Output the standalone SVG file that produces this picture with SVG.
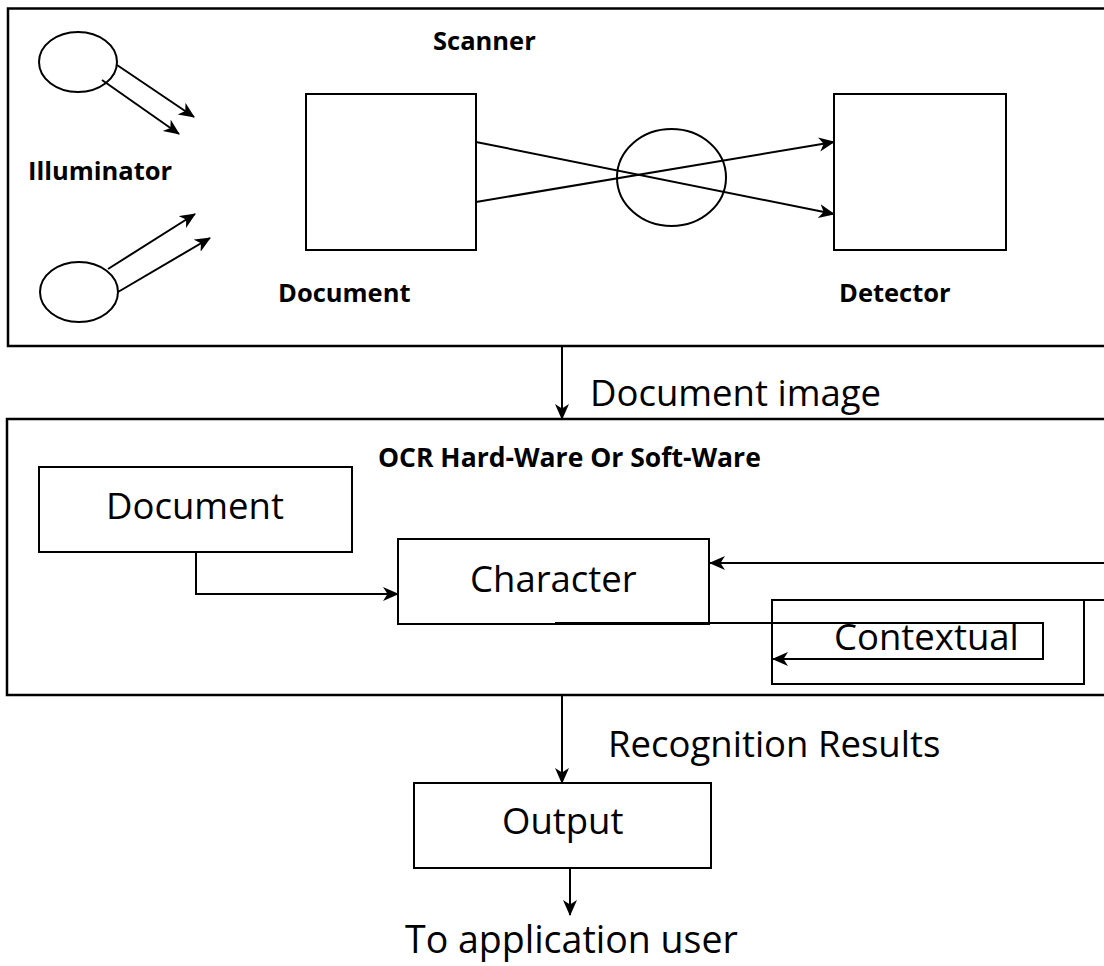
<svg xmlns="http://www.w3.org/2000/svg" width="1104" height="966" viewBox="0 0 1104 966">
<style>
.box{fill:none;stroke:#000;stroke-width:2.5}
.ln{fill:none;stroke:#000;stroke-width:2}
.arr{fill:none;stroke:#000;stroke-width:2;marker-end:url(#ah)}
.b{font-family:"Open Sans","Liberation Sans",sans-serif;font-weight:bold;font-size:25.5px;fill:#000}
.r{font-family:"Open Sans","Liberation Sans",sans-serif;font-size:36.5px;fill:#000}
</style>
<defs>
<marker id="ah" markerUnits="userSpaceOnUse" markerWidth="20" markerHeight="16" refX="15" refY="7" orient="auto">
<path d="M0,0 L16,7 L0,14 L4.5,7 z" fill="#000"/>
</marker>
</defs>
<rect width="1104" height="966" fill="#fff"/>
<g id="scanner">
<rect class="box" x="8" y="8.5" width="1110" height="337.5"/>
<text class="b" x="433" y="50">Scanner</text>
</g>
<g id="illuminator">
<ellipse class="ln" cx="78" cy="62" rx="39" ry="30"/>
<ellipse class="ln" cx="79" cy="292" rx="39" ry="30"/>
<text class="b" x="28" y="180">Illuminator</text>
</g>
<g id="document-scan">
<rect class="ln" x="306" y="94" width="170" height="156"/>
<text class="b" x="278" y="302">Document</text>
</g>
<g id="lens">
<ellipse class="ln" cx="671.5" cy="177.5" rx="54.5" ry="48.5"/>
</g>
<g id="detector">
<rect class="ln" x="834" y="94" width="172" height="156"/>
<text class="b" x="839" y="302">Detector</text>
</g>
<g id="ocr">
<rect class="box" x="7" y="419" width="1110" height="276"/>
<text class="b" x="378" y="467" style="font-size:26.5px">OCR Hard-Ware Or Soft-Ware</text>
</g>
<g id="document-ocr">
<rect class="ln" x="39" y="467" width="313" height="85"/>
<text class="r" x="106" y="519">Document</text>
</g>
<g id="character">
<rect class="ln" x="398" y="539" width="311" height="85"/>
<text class="r" x="470" y="592">Character</text>
</g>
<g id="contextual">
<rect class="ln" x="772" y="600" width="312" height="84"/>
<text class="r" x="834" y="650">Contextual</text>
</g>
<g id="output">
<rect class="ln" x="414" y="783" width="297" height="85"/>
<text class="r" x="502" y="834">Output</text>
</g>
<g id="labels">
<text class="r" x="590" y="406">Document image</text>
<text class="r" x="608" y="757">Recognition Results</text>
<text class="r" x="405" y="953" style="font-size:37.5px">To application user</text>
</g>
<g id="connectors">
<line class="arr" x1="117" y1="65" x2="194" y2="117"/>
<line class="arr" x1="102" y1="80" x2="179" y2="134"/>
<line class="arr" x1="108" y1="269" x2="195" y2="214"/>
<line class="arr" x1="118" y1="292" x2="210" y2="238"/>
<line class="arr" x1="476" y1="142" x2="834" y2="214"/>
<line class="arr" x1="476" y1="202" x2="834" y2="142"/>
<line class="arr" x1="562" y1="346" x2="562" y2="419"/>
<polyline class="arr" points="196,552 196,594 398,594"/>
<line class="arr" x1="1106" y1="563" x2="710" y2="563"/>
<line class="ln" x1="1084" y1="600" x2="1106" y2="600"/>
<polyline class="arr" points="555,623 1043,623 1043,659 773,659"/>
<line class="arr" x1="562" y1="696" x2="562" y2="783"/>
<line class="arr" x1="570" y1="868" x2="570" y2="915"/>
</g>
</svg>
